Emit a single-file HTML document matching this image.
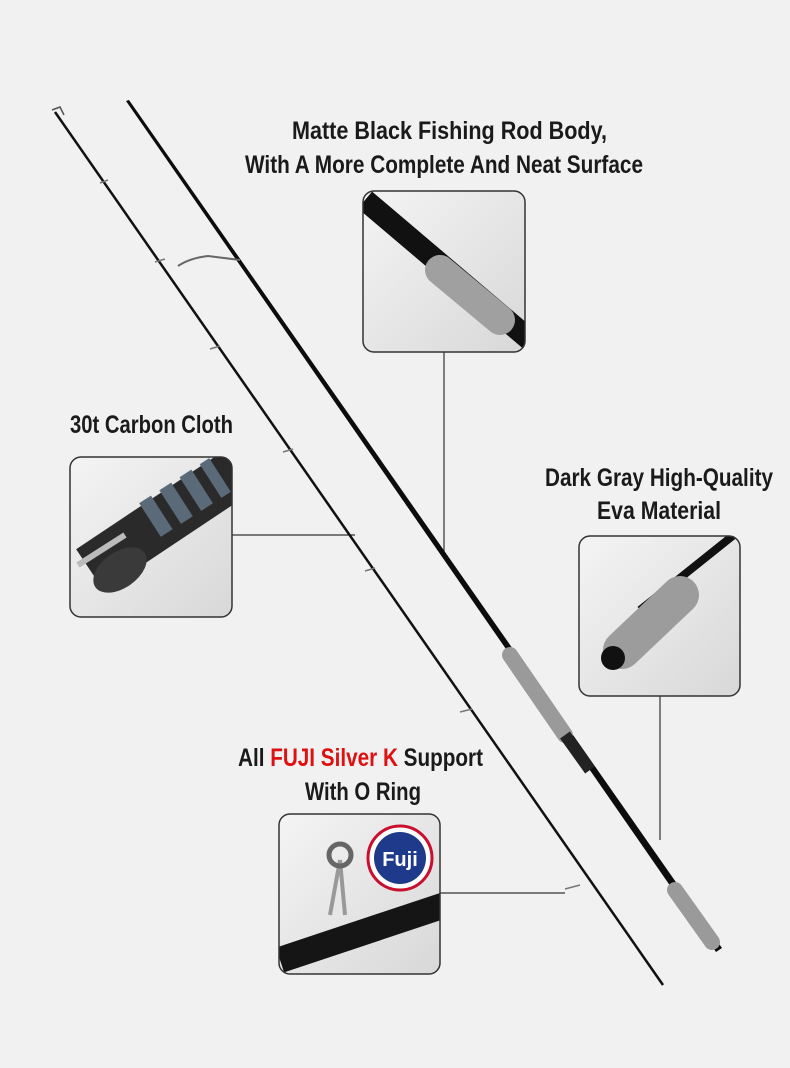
<!DOCTYPE html>
<html><head><meta charset="utf-8"><style>
html,body{margin:0;padding:0;background:#f1f1f1;}
svg{display:block}
text{font-family:"Liberation Sans",sans-serif;font-weight:bold;fill:#1a1a1a;font-size:25px}
</style></head><body>
<svg width="790" height="1068" viewBox="0 0 790 1068" xmlns="http://www.w3.org/2000/svg">
<defs>
<linearGradient id="bg" x1="0" y1="0" x2="1" y2="1"><stop offset="0" stop-color="#f4f4f4"/><stop offset="1" stop-color="#d8d8d8"/></linearGradient>
<clipPath id="c1"><rect x="363" y="191" width="162" height="161" rx="11"/></clipPath>
<clipPath id="c2"><rect x="70" y="457" width="162" height="160" rx="11"/></clipPath>
<clipPath id="c3"><rect x="579" y="536" width="161" height="160" rx="11"/></clipPath>
<clipPath id="c4"><rect x="279" y="814" width="161" height="160" rx="11"/></clipPath>
</defs>
<rect width="790" height="1068" fill="#f1f1f1"/>
<g stroke="#333" stroke-width="1.2" fill="none">
<line x1="444" y1="352" x2="444" y2="555"/>
<line x1="232" y1="535" x2="355" y2="535"/>
<line x1="660" y1="696" x2="660" y2="840"/>
<line x1="440" y1="893" x2="565" y2="893"/>
</g>
<line x1="55" y1="112" x2="663" y2="985" stroke="#111" stroke-width="2.5"/>
<path d="M52 110 l8 -3 l4 8" stroke="#555" stroke-width="1.5" fill="none"/>
<g stroke="#777" stroke-width="1.5">
<line x1="100" y1="183" x2="108" y2="180"/><line x1="155" y1="262" x2="165" y2="259"/>
<line x1="210" y1="349" x2="220" y2="346"/><line x1="283" y1="452" x2="293" y2="449"/>
<line x1="365" y1="571" x2="375" y2="568"/><line x1="460" y1="712" x2="472" y2="709"/>
<line x1="565" y1="889" x2="580" y2="885"/>
</g>
<path d="M126 101 L129 100 L722 948 L716 952 Z" fill="#0c0c0c"/>
<path d="M178 266 q12 -8 30 -10 l32 4" stroke="#666" stroke-width="2" fill="none"/>
<line x1="510" y1="655" x2="565" y2="735" stroke="#9a9a9a" stroke-width="16" stroke-linecap="round"/>
<line x1="565" y1="735" x2="590" y2="770" stroke="#222" stroke-width="12"/>
<line x1="675" y1="890" x2="712" y2="942" stroke="#9a9a9a" stroke-width="16" stroke-linecap="round"/>
<g clip-path="url(#c1)"><rect x="363" y="191" width="162" height="161" fill="url(#bg)"/>
<line x1="365" y1="200" x2="530" y2="340" stroke="#111" stroke-width="22"/>
<line x1="440" y1="270" x2="500" y2="320" stroke="#a0a0a0" stroke-width="30" stroke-linecap="round"/></g>
<rect x="363" y="191" width="162" height="161" rx="11" fill="none" stroke="#333" stroke-width="1.5"/>
<g clip-path="url(#c2)"><rect x="70" y="457" width="162" height="160" fill="url(#bg)"/>
<line x1="90" y1="570" x2="240" y2="470" stroke="#2a2a2a" stroke-width="50"/>
<line x1="150" y1="520" x2="220" y2="475" stroke="#5a6a78" stroke-width="40" stroke-dasharray="14 10"/>
<ellipse cx="120" cy="570" rx="30" ry="18" fill="#3a3a3a" transform="rotate(-35 120 570)"/>
<line x1="78" y1="565" x2="125" y2="535" stroke="#bbb" stroke-width="6"/></g>
<rect x="70" y="457" width="162" height="160" rx="11" fill="none" stroke="#333" stroke-width="1.5"/>
<g clip-path="url(#c3)"><rect x="579" y="536" width="161" height="160" fill="url(#bg)"/>
<line x1="640" y1="610" x2="740" y2="530" stroke="#111" stroke-width="8"/>
<line x1="622" y1="650" x2="680" y2="595" stroke="#9c9c9c" stroke-width="38" stroke-linecap="round"/>
<circle cx="613" cy="658" r="12" fill="#111"/></g>
<rect x="579" y="536" width="161" height="160" rx="11" fill="none" stroke="#333" stroke-width="1.5"/>
<g clip-path="url(#c4)"><rect x="279" y="814" width="161" height="160" fill="url(#bg)"/>
<line x1="280" y1="960" x2="445" y2="905" stroke="#151515" stroke-width="26"/>
<line x1="330" y1="915" x2="340" y2="860" stroke="#999" stroke-width="4"/>
<line x1="345" y1="915" x2="340" y2="860" stroke="#999" stroke-width="4"/>
<circle cx="340" cy="855" r="11" fill="none" stroke="#666" stroke-width="5"/>
<circle cx="400" cy="858" r="32" fill="#fff" stroke="#c8102e" stroke-width="3"/>
<circle cx="400" cy="858" r="26" fill="#1f3a8a"/>
<text x="400" y="866" text-anchor="middle" style="font-size:20px;fill:#fff">Fuji</text></g>
<rect x="279" y="814" width="161" height="160" rx="11" fill="none" stroke="#333" stroke-width="1.5"/>
<text x="292" y="139" textLength="315" lengthAdjust="spacingAndGlyphs">Matte Black Fishing Rod Body,</text>
<text x="245" y="173" textLength="398" lengthAdjust="spacingAndGlyphs">With A More Complete And Neat Surface</text>
<text x="70" y="433" textLength="163" lengthAdjust="spacingAndGlyphs">30t Carbon Cloth</text>
<text x="545" y="486" textLength="228" lengthAdjust="spacingAndGlyphs">Dark Gray High-Quality</text>
<text x="597" y="519" textLength="124" lengthAdjust="spacingAndGlyphs">Eva Material</text>
<text x="238" y="766" textLength="245" lengthAdjust="spacingAndGlyphs">All <tspan fill="#d11">FUJI Silver K</tspan> Support</text>
<text x="305" y="800" textLength="116" lengthAdjust="spacingAndGlyphs">With O Ring</text>
</svg>
</body></html>
